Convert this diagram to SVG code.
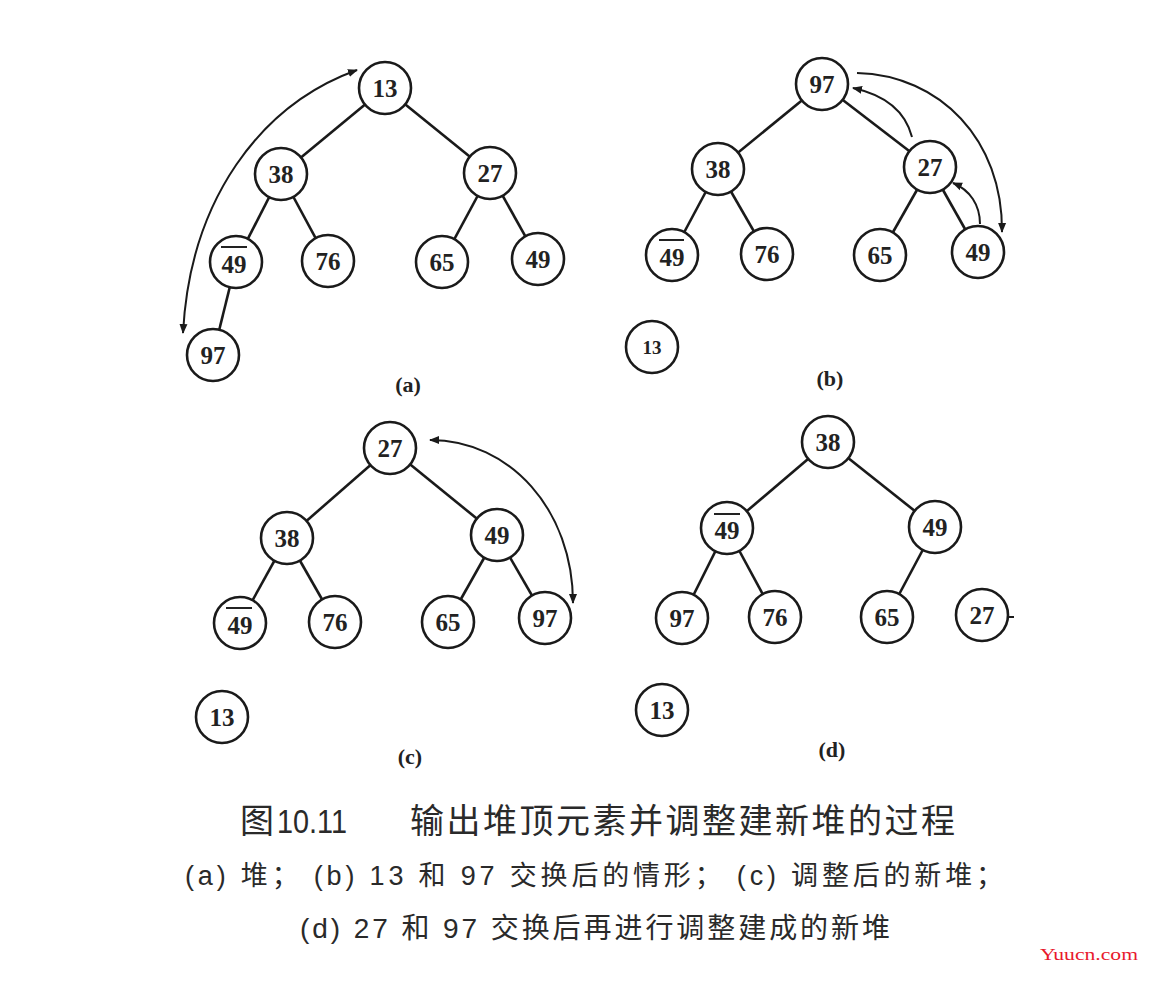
<svg xmlns="http://www.w3.org/2000/svg" width="1150" height="1008" viewBox="0 0 1150 1008">
<style>
.e{stroke:#1a1a1a;stroke-width:2.6;fill:none}
.a{stroke:#1a1a1a;stroke-width:2;fill:none}
.c{fill:#fff;stroke:#1a1a1a;stroke-width:2.6}
.t{font-family:"Liberation Serif","DejaVu Serif",serif;font-weight:bold;font-size:25px;fill:#222;text-anchor:middle}
.s{font-size:19px}
.ob{stroke:#222;stroke-width:2}
.lab{font-family:"Liberation Serif",serif;font-weight:bold;font-size:22px;fill:#222;text-anchor:middle}
.cap{font-family:"Liberation Sans","Noto Sans CJK SC",sans-serif;fill:#2a2a2a}
</style>
<defs>
<marker id="ah" viewBox="0 0 10 10" refX="9" refY="5" markerWidth="5" markerHeight="5" orient="auto-start-reverse" markerUnits="strokeWidth">
<path d="M0,1 L10,5 L0,9 z" fill="#1a1a1a"/>
</marker>
</defs>
<rect width="1150" height="1008" fill="#fff"/>
<g id="connectors">
<!-- (a) -->
<line class="e" x1="385" y1="88" x2="281" y2="174"/>
<line class="e" x1="385" y1="88" x2="490" y2="173"/>
<line class="e" x1="281" y1="174" x2="236" y2="262"/>
<line class="e" x1="281" y1="174" x2="328" y2="261"/>
<line class="e" x1="490" y1="173" x2="442" y2="262"/>
<line class="e" x1="490" y1="173" x2="538" y2="259"/>
<line class="e" x1="236" y1="262" x2="213" y2="355"/>
<path class="a" d="M357 70 C260 105 190 200 183 333" marker-start="url(#ah)" marker-end="url(#ah)"/>
<!-- (b) -->
<line class="e" x1="822" y1="84" x2="718" y2="169"/>
<line class="e" x1="822" y1="84" x2="930" y2="167"/>
<line class="e" x1="718" y1="169" x2="672" y2="255"/>
<line class="e" x1="718" y1="169" x2="767" y2="254"/>
<line class="e" x1="930" y1="167" x2="880" y2="255"/>
<line class="e" x1="930" y1="167" x2="978" y2="252"/>
<path class="a" d="M857 73 C940 75 1003 140 1002 232" marker-end="url(#ah)"/>
<path class="a" d="M912 137 C905 110 885 95 853 88" marker-end="url(#ah)"/>
<path class="a" d="M980 224 C980 205 970 190 953 183" marker-end="url(#ah)"/>
<!-- (c) -->
<line class="e" x1="390" y1="448" x2="287" y2="538"/>
<line class="e" x1="390" y1="448" x2="497" y2="535"/>
<line class="e" x1="287" y1="538" x2="240" y2="623"/>
<line class="e" x1="287" y1="538" x2="335" y2="622"/>
<line class="e" x1="497" y1="535" x2="448" y2="622"/>
<line class="e" x1="497" y1="535" x2="545" y2="618"/>
<path class="a" d="M430 440 C510 440 573 510 573 603" marker-start="url(#ah)" marker-end="url(#ah)"/>
<!-- (d) -->
<line class="e" x1="828" y1="442" x2="727" y2="528"/>
<line class="e" x1="828" y1="442" x2="935" y2="527"/>
<line class="e" x1="727" y1="528" x2="682" y2="618"/>
<line class="e" x1="727" y1="528" x2="775" y2="617"/>
<line class="e" x1="935" y1="527" x2="887" y2="617"/>
<line class="a" x1="1008" y1="617" x2="1014" y2="617"/>
</g>
<!-- (a) nodes -->
<g id="a13"><circle class="c" cx="385" cy="88" r="26"/><text class="t" x="385" y="97">13</text></g>
<g id="a38"><circle class="c" cx="281" cy="174" r="26"/><text class="t" x="281" y="183">38</text></g>
<g id="a27"><circle class="c" cx="490" cy="173" r="26"/><text class="t" x="490" y="182">27</text></g>
<g id="a49b"><circle class="c" cx="236" cy="262" r="26"/><text class="t" x="234" y="273">49</text><line class="ob" x1="221" y1="247" x2="247" y2="247"/></g>
<g id="a76"><circle class="c" cx="328" cy="261" r="26"/><text class="t" x="328" y="270">76</text></g>
<g id="a65"><circle class="c" cx="442" cy="262" r="26"/><text class="t" x="442" y="271">65</text></g>
<g id="a49"><circle class="c" cx="538" cy="259" r="26"/><text class="t" x="538" y="268">49</text></g>
<g id="a97"><circle class="c" cx="213" cy="355" r="26"/><text class="t" x="213" y="364">97</text></g>
<text class="lab" x="408" y="392">(a)</text>
<!-- (b) nodes -->
<g id="b97"><circle class="c" cx="822" cy="84" r="26"/><text class="t" x="822" y="93">97</text></g>
<g id="b38"><circle class="c" cx="718" cy="169" r="26"/><text class="t" x="718" y="178">38</text></g>
<g id="b27"><circle class="c" cx="930" cy="167" r="26"/><text class="t" x="930" y="176">27</text></g>
<g id="b49b"><circle class="c" cx="672" cy="255" r="26"/><text class="t" x="672" y="266">49</text><line class="ob" x1="659" y1="240" x2="684" y2="240"/></g>
<g id="b76"><circle class="c" cx="767" cy="254" r="26"/><text class="t" x="767" y="263">76</text></g>
<g id="b65"><circle class="c" cx="880" cy="255" r="26"/><text class="t" x="880" y="264">65</text></g>
<g id="b49"><circle class="c" cx="978" cy="252" r="26"/><text class="t" x="978" y="261">49</text></g>
<g id="b13"><circle class="c" cx="652" cy="347" r="26"/><text class="t s" x="652" y="354">13</text></g>
<text class="lab" x="830" y="386">(b)</text>
<!-- (c) nodes -->
<g id="c27"><circle class="c" cx="390" cy="448" r="26"/><text class="t" x="390" y="457">27</text></g>
<g id="c38"><circle class="c" cx="287" cy="538" r="26"/><text class="t" x="287" y="547">38</text></g>
<g id="c49"><circle class="c" cx="497" cy="535" r="26"/><text class="t" x="497" y="544">49</text></g>
<g id="c49b"><circle class="c" cx="240" cy="623" r="26"/><text class="t" x="240" y="634">49</text><line class="ob" x1="226" y1="608" x2="252" y2="608"/></g>
<g id="c76"><circle class="c" cx="335" cy="622" r="26"/><text class="t" x="335" y="631">76</text></g>
<g id="c65"><circle class="c" cx="448" cy="622" r="26"/><text class="t" x="448" y="631">65</text></g>
<g id="c97"><circle class="c" cx="545" cy="618" r="26"/><text class="t" x="545" y="627">97</text></g>
<g id="c13"><circle class="c" cx="222" cy="717" r="26"/><text class="t" x="222" y="726">13</text></g>
<text class="lab" x="410" y="764">(c)</text>
<!-- (d) nodes -->
<g id="d38"><circle class="c" cx="828" cy="442" r="26"/><text class="t" x="828" y="451">38</text></g>
<g id="d49b"><circle class="c" cx="727" cy="528" r="26"/><text class="t" x="727" y="539">49</text><line class="ob" x1="714" y1="514" x2="740" y2="514"/></g>
<g id="d49"><circle class="c" cx="935" cy="527" r="26"/><text class="t" x="935" y="536">49</text></g>
<g id="d97"><circle class="c" cx="682" cy="618" r="26"/><text class="t" x="682" y="627">97</text></g>
<g id="d76"><circle class="c" cx="775" cy="617" r="26"/><text class="t" x="775" y="626">76</text></g>
<g id="d65"><circle class="c" cx="887" cy="617" r="26"/><text class="t" x="887" y="626">65</text></g>
<g id="d27"><circle class="c" cx="982" cy="615" r="26"/><text class="t" x="982" y="624">27</text></g>
<g id="d13"><circle class="c" cx="662" cy="710" r="26"/><text class="t" x="662" y="719">13</text></g>
<text class="lab" x="832" y="757">(d)</text>
<!-- captions -->
<text class="cap" x="240" y="833" font-size="34">图</text>
<text class="cap" x="277" y="833" font-size="34" textLength="70" lengthAdjust="spacingAndGlyphs">10.11</text>
<text class="cap" x="410" y="833" font-size="34" textLength="545" lengthAdjust="spacing">输出堆顶元素并调整建新堆的过程</text>
<text class="cap" x="185" y="885" font-size="27" textLength="818" lengthAdjust="spacing">(a) 堆；  (b) 13 和 97 交换后的情形；  (c) 调整后的新堆；</text>
<text class="cap" x="300" y="938" font-size="28" textLength="590" lengthAdjust="spacing">(d) 27 和 97 交换后再进行调整建成的新堆</text>
<text x="1040" y="960" font-family="Liberation Serif,serif" font-size="17" fill="#e8192c" textLength="98" lengthAdjust="spacingAndGlyphs">Yuucn.com</text>
</svg>
